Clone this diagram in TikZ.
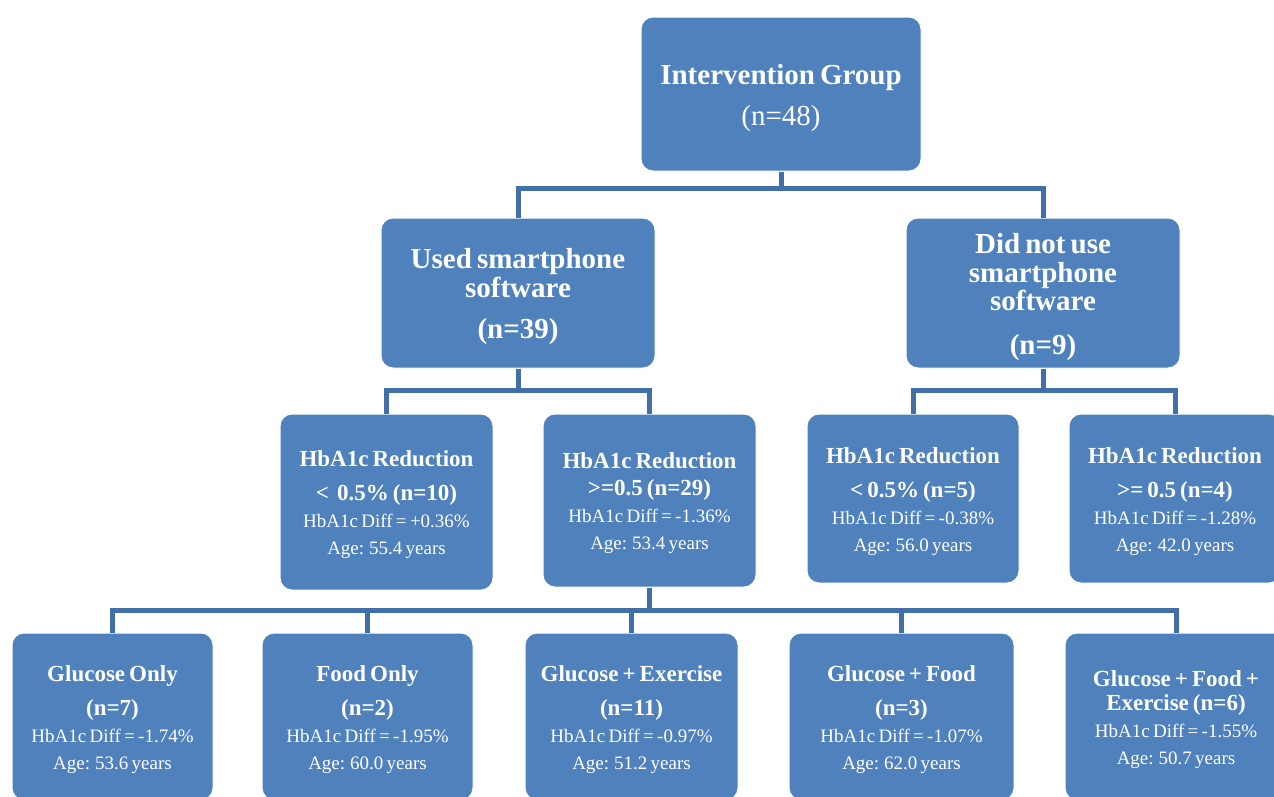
\documentclass[tikz,border=0pt]{standalone}
\usepackage{fontspec}
\setmainfont{Liberation Serif}[WordSpace=0.7]
\definecolor{boxblue}{HTML}{4F81BD}
\definecolor{linkblue}{HTML}{4170A8}
\tikzset{
  box/.style={rectangle, rounded corners=12pt, fill=boxblue, draw=white, line width=1pt,
    text=white, align=center, inner sep=0pt, font=\fontsize{19}{27}\selectfont},
  conn/.style={draw=linkblue, line width=5pt},
}
\newcommand{\bigb}[1]{{\fontsize{29}{29}\selectfont\bfseries #1}}
\newcommand{\midb}[1]{{\fontsize{23}{27}\selectfont\bfseries #1}}
\newcommand{\topb}[1]{{\rule{0pt}{28pt}\fontsize{29}{29}\selectfont\bfseries #1}}
\newcommand{\topm}[1]{{\rule{0pt}{22pt}\fontsize{23}{27}\selectfont\bfseries #1}}
\begin{document}
\begin{tikzpicture}[x=1pt,y=-1pt]
\useasboundingbox (0,0) rectangle (1274,796);
% level 1
\node[box, minimum width=280pt, minimum height=154pt, font=\fontsize{29}{41}\selectfont] (top) at (781,94)
  {\topb{Intervention Group}\\(n=48)};
% level 2
\node[box, minimum width=274pt, minimum height=150pt, font=\fontsize{29}{29}\selectfont] (used) at (518,293)
  {\topb{Used smartphone}\\\bigb{software}\\[12pt]\bigb{(n=39)}};
\node[box, minimum width=274pt, minimum height=150pt, font=\fontsize{29}{28.5}\selectfont] (notused) at (1043,293)
  {\topb{Did not use}\\\bigb{smartphone}\\\bigb{software}\\[15pt]\bigb{(n=9)}};
% level 3
\node[box, minimum width=213pt, minimum height=176pt] (A) at (386.5,502)
  {\topm{HbA1c Reduction}\\[7pt]\midb{<\ \ 0.5\% (n=10)}\\HbA1c Diff = +0.36\%\\Age: 55.4 years};
\node[box, minimum width=213pt, minimum height=173pt] (B) at (649.5,500.5)
  {\topm{HbA1c Reduction}\\\midb{>=0.5 (n=29)}\\HbA1c Diff = -1.36\%\\Age: 53.4 years};
\node[box, minimum width=212pt, minimum height=169pt] (C) at (913,498.5)
  {\topm{HbA1c Reduction}\\[7pt]\midb{< 0.5\% (n=5)}\\HbA1c Diff = -0.38\%\\Age: 56.0 years};
\node[box, minimum width=212pt, minimum height=169pt] (D) at (1175,498.5)
  {\topm{HbA1c Reduction}\\[7pt]\midb{>= 0.5 (n=4)}\\HbA1c Diff = -1.28\%\\Age: 42.0 years};
% level 4
\node[box, minimum width=201pt, minimum height=167pt] (E1) at (112.5,716.5)
  {\topm{Glucose Only}\\[7pt]\midb{(n=7)}\\HbA1c Diff = -1.74\%\\Age: 53.6 years};
\node[box, minimum width=211pt, minimum height=167pt] (E2) at (367.5,716.5)
  {\topm{Food Only}\\[7pt]\midb{(n=2)}\\HbA1c Diff = -1.95\%\\Age: 60.0 years};
\node[box, minimum width=213pt, minimum height=167pt] (E3) at (631.5,716.5)
  {\topm{Glucose + Exercise}\\[7pt]\midb{(n=11)}\\HbA1c Diff = -0.97\%\\Age: 51.2 years};
\node[box, minimum width=225pt, minimum height=167pt] (E4) at (901.5,716.5)
  {\topm{Glucose + Food}\\[7pt]\midb{(n=3)}\\HbA1c Diff = -1.07\%\\Age: 62.0 years};
\node[box, minimum width=222pt, minimum height=167pt] (E5) at (1176,716.5)
  {\topm{Glucose + Food +}\\[-3pt]\midb{Exercise (n=6)}\\HbA1c Diff = -1.55\%\\Age: 50.7 years};
% connectors
\coordinate (j1) at ([yshift=-17pt]top.south);
\coordinate (j2) at ([yshift=-22pt]used.south);
\coordinate (j3) at ([yshift=-22pt]notused.south);
\coordinate (j4) at ([yshift=-23pt]B.south);
\draw[conn] (top.south) -- (j1);
\draw[conn] (j1) -| (used.north);
\draw[conn] (j1) -| (notused.north);
\draw[conn] (used.south) -- (j2);
\draw[conn] (j2) -| (A.north);
\draw[conn] (j2) -| (B.north);
\draw[conn] (notused.south) -- (j3);
\draw[conn] (j3) -| (C.north);
\draw[conn] (j3) -| (D.north);
\draw[conn] (B.south) -- (j4);
\foreach \e in {E1,E2,E3,E4,E5} { \draw[conn] (j4) -| (\e.north); }
\end{tikzpicture}
\end{document}
